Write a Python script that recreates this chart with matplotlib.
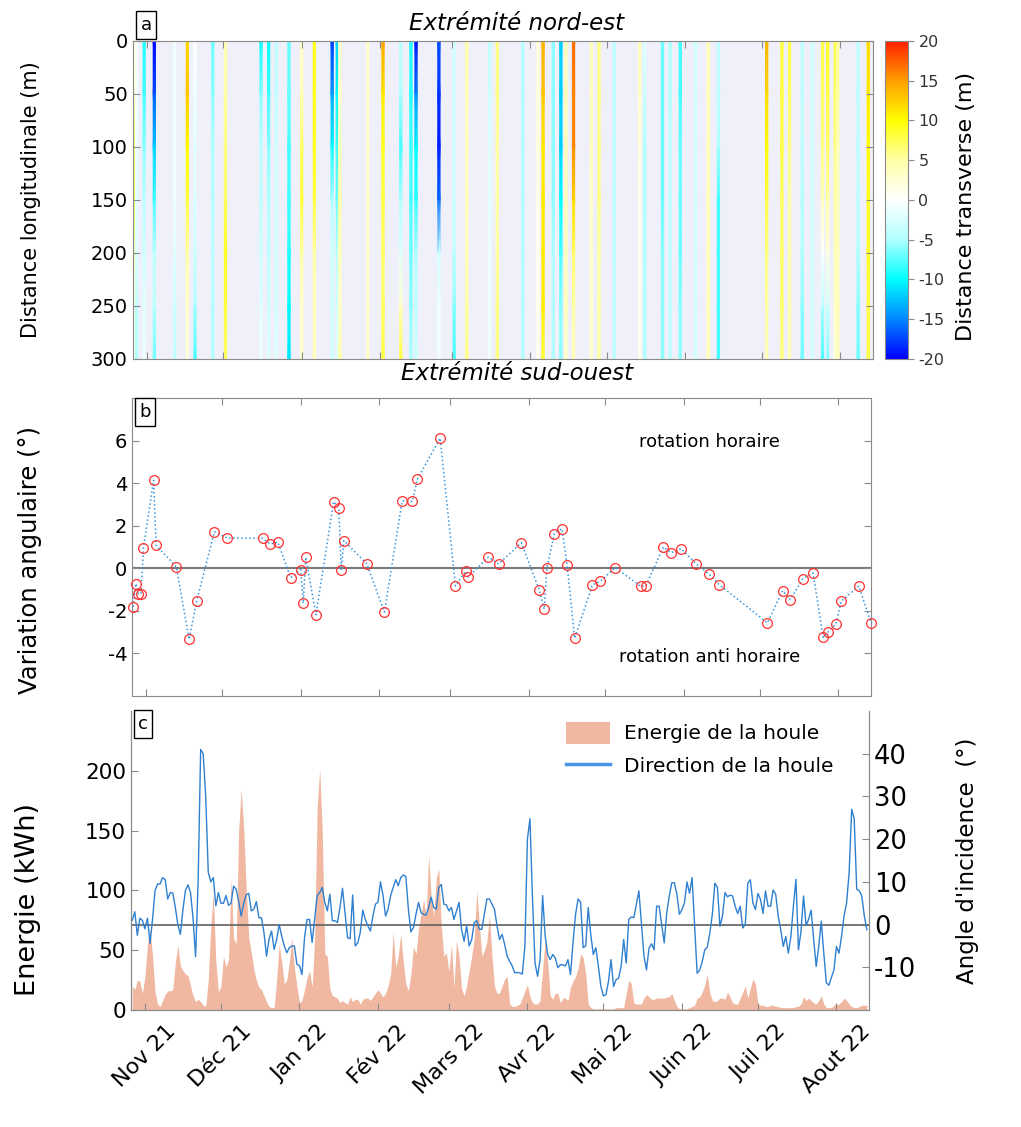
import numpy as np
import pandas as pd
import matplotlib
matplotlib.use("Agg")
import matplotlib.pyplot as plt
import matplotlib.dates as mdates
from matplotlib.colors import LinearSegmentedColormap, Normalize
from matplotlib.cm import ScalarMappable
from matplotlib.patches import Patch
from matplotlib.lines import Line2D

# ---- panel a : transverse shift of the shoreline, one stripe per survey
distance_nodes = [0, 50, 100, 150, 200, 250, 300]
stripe_dates = ["2021-10-27", "2021-10-28", "2021-10-31", "2021-11-04", "2021-11-12",
                "2021-11-17", "2021-11-20", "2021-11-27", "2021-12-02", "2021-12-16",
                "2021-12-19", "2021-12-22", "2021-12-27", "2022-01-01", "2022-01-06",
                "2022-01-13", "2022-01-15", "2022-01-16", "2022-01-27", "2022-02-02",
                "2022-02-09", "2022-02-13", "2022-02-15", "2022-02-24", "2022-03-02",
                "2022-03-07", "2022-03-16", "2022-03-19", "2022-03-29", "2022-04-04",
                "2022-04-06", "2022-04-10", "2022-04-13", "2022-04-15", "2022-04-18",
                "2022-04-25", "2022-04-28", "2022-05-04", "2022-05-14", "2022-05-16",
                "2022-05-23", "2022-05-26", "2022-05-30", "2022-06-05", "2022-06-10",
                "2022-06-14", "2022-07-03", "2022-07-09", "2022-07-12", "2022-07-17",
                "2022-07-21", "2022-07-25", "2022-07-27", "2022-07-30", "2022-07-31",
                "2022-08-08", "2022-08-12"]
stripe_values = [
    [3, 4, 7, 8, 5, 3, 2], [0, -1, -1, -2, -2, -4, -5], [-9, -8, -6, -4, -3, -2, -1],
    [-20, -17, -12, -8, -4, -4, -7], [-1, -1, -1, -1, -2, -3, -4], [12, 13, 10, 8, 5, 3, 2],
    [0, -1, -2, -2, -3, -5, -8], [-7, -6, -5, -5, -4, -5, -5], [4, 5, 6, 7, 9, 8, 7],
    [-10, -6, -4, -4, -3, -2, -1], [-10, -8, -6, -5, -4, -3, -2], [-4, -4, -3, -3, -3, -3, -2],
    [-7, -7, -8, -8, -9, -10, -11], [3, 4, 7, 8, 5, 3, 3], [9, 9, 9, 8, 5, 4, 4],
    [-18, -14, -10, -5, -3, -3, -3], [-12, -10, -8, -7, -4, -3, -2], [3, 3, 4, 5, 4, 3, 5],
    [3, 3, 3, 3, 3, 3, 3], [15, 11, 9, 8, 7, 7, 8], [-4, -5, -8, -5, -2, 3, 8],
    [-9, -9, -8, -8, -7, -6, -5], [-20, -15, -10, -9, -5, -4, -3], [-17, -18, -19, -16, -3, -1, -1],
    [-3, -3, -3, -3, -4, -6, -8], [5, 4, 4, 4, 4, 5, 6], [-4, -3, -2, -2, -1, -1, -1],
    [6, 6, 5, 5, 5, 6, 6], [-5, -5, -5, -5, -5, -5, -5], [2, 2, 2, 1, 1, 1, 1],
    [14, 13, 11, 11, 11, 11, 8], [-6, -6, -6, -6, -5, -5, -5], [-12, -12, -12, -10, -8, -6, -6],
    [4, 4, 4, 4, 4, 4, 3], [17, 16, 16, 12, 7, 5, 4], [4, 4, 4, 3, 3, 3, 3],
    [6, 6, 6, 6, 5, 5, 5], [-4, -4, -4, -4, -4, -4, -4], [4, 3, 2, 1, 1, 1, 1],
    [-2, -3, -5, -5, -5, -5, -5], [-7, -7, -7, -7, -6, -6, -6], [-5, -5, -4, -4, -4, -4, -4],
    [-8, -8, -7, -7, -7, -6, -6], [-3, -3, -3, -3, -3, -3, -3], [4, 4, 4, 4, 4, 4, 4],
    [-4, -4, -5, -8, -8, -8, -8], [14, 12, 10, 8, 6, 5, 4], [8, 8, 8, 7, 7, 7, 6],
    [8, 7, 6, 5, 5, 5, 4], [-4, -4, -4, -5, -5, -6, -7], [-3, -3, -3, -3, -3, -3, -3],
    [8, 7, 6, 4, 0, -4, -8], [9, 8, 7, 5, 2, -3, -6], [8, 7, 6, 5, 4, 3, 2],
    [5, 5, 4, 4, 4, 4, 4], [-4, -4, -4, -4, -5, -6, -7], [12, 11, 10, 9, 9, 8, 8],
]

# ---- panel b : angular variation
rotation_dates = ["2021-10-27", "2021-10-28", "2021-10-29", "2021-10-30", "2021-10-31",
                  "2021-11-04", "2021-11-05", "2021-11-13", "2021-11-18", "2021-11-21",
                  "2021-11-28", "2021-12-03", "2021-12-17", "2021-12-20", "2021-12-23",
                  "2021-12-28", "2022-01-01", "2022-01-02", "2022-01-03", "2022-01-07",
                  "2022-01-14", "2022-01-16", "2022-01-17", "2022-01-18", "2022-01-27",
                  "2022-02-03", "2022-02-10", "2022-02-14", "2022-02-16", "2022-02-25",
                  "2022-03-03", "2022-03-07", "2022-03-08", "2022-03-16", "2022-03-20",
                  "2022-03-29", "2022-04-05", "2022-04-07", "2022-04-08", "2022-04-11",
                  "2022-04-14", "2022-04-16", "2022-04-19", "2022-04-26", "2022-04-29",
                  "2022-05-05", "2022-05-15", "2022-05-17", "2022-05-24", "2022-05-27",
                  "2022-05-31", "2022-06-06", "2022-06-11", "2022-06-15", "2022-07-04",
                  "2022-07-10", "2022-07-13", "2022-07-18", "2022-07-22", "2022-07-26",
                  "2022-07-28", "2022-07-31", "2022-08-02", "2022-08-09", "2022-08-14"]
rotation_values = [-1.81, -0.72, -1.19, -1.19, 0.95, 4.13, 1.08, 0.06, -3.34, -1.53,
                   1.72, 1.42, 1.41, 1.14, 1.23, -0.44, -0.06, -1.64, 0.52, -2.19,
                   3.13, 2.81, -0.09, 1.30, 0.22, -2.06, 3.16, 3.14, 4.20, 6.11,
                   -0.83, -0.14, -0.41, 0.53, 0.20, 1.20, -1.0, -1.92, 0.0, 1.63,
                   1.86, 0.17, -3.28, -0.78, -0.62, 0.03, -0.84, -0.84, 1.0, 0.73,
                   0.92, 0.19, -0.27, -0.77, -2.56, -1.05, -1.47, -0.48, -0.23, -3.25,
                   -2.98, -2.61, -1.56, -0.84, -2.59]

# ---- panel c : daily wave energy and direction, from 27 Oct 2021
series_start = "2021-10-27"
wave_energy = [20, 17, 25, 24, 14, 28, 55, 68, 45, 15,
               5, 3, 8, 13, 16, 16, 17, 40, 54, 37,
               33, 30, 29, 20, 12, 7, 9, 7, 4, 3,
               25, 70, 98, 40, 15, 20, 45, 36, 42, 110,
               60, 55, 150, 185, 152, 100, 60, 48, 34, 25,
               19, 17, 12, 7, 3, 2, 2, 25, 55, 40,
               22, 25, 40, 60, 35, 20, 6, 8, 17, 27,
               33, 19, 60, 170, 202, 150, 47, 45, 18, 12,
               11, 10, 6, 8, 6, 5, 11, 7, 9, 9,
               5, 9, 10, 10, 8, 11, 14, 17,
               14, 11, 14, 20, 30, 65, 36, 45, 64, 40,
               22, 16, 30, 53, 47, 68, 80, 92, 78, 130,
               95, 78, 110, 118, 70, 45, 48, 32, 55, 19,
               58, 45, 18, 12, 20, 33, 45, 60, 100, 72,
               45, 50, 57, 80, 45, 20, 14, 14, 20, 26,
               28, 5, 3, 3, 4, 5, 10, 16, 21, 11,
               6, 5, 5, 8, 34, 59, 40, 12, 9, 14,
               14, 6, 10, 10, 8, 19, 24, 28, 35, 47,
               44, 30, 5, 2, 1, 1, 1, 1, 1, 1,
               1, 1, 1, 2, 2, 2, 2,
               14, 25, 22, 6, 5, 5, 5, 10, 13, 11,
               9, 9, 10, 10, 10, 10, 11, 11, 14, 8,
               3, 1, 1, 1, 1, 2, 3, 4, 10, 11,
               15, 21, 30, 14, 8, 7, 8, 10, 10, 9,
               15, 11, 6, 5, 5, 10, 15, 20, 10, 18,
               26, 22, 5, 4, 4, 3, 3, 4, 4, 3,
               3, 2, 2, 2, 2, 2, 2, 3, 3, 5,
               11, 8, 10, 8, 6, 5, 8, 12, 5, 2,
               2, 2, 4, 5, 5, 7, 10, 8, 5, 3,
               2, 2, 3, 4, 4, 4]
wave_direction = [1, 3, -2.5, 1.5, 1, -1, 1.5, -4.4, 1.2, 8,
                  9.5, 9.5, 11, 10.5, 6, 7.5, 7.4, 4, 0, -2.3,
                  3.5, 8, 9.3, 7.5, 1.5, -7.5, 10, 41, 40, 30,
                  12.3, 10, 11, 4.4, 7.5, 5, 5, 6.8, 4.5, 5,
                  9, 8.3, 5.5, 2, 5, 7, 7.3, 3.2, 3.6, 5.4,
                  1.6, 1.6, -1.9, -7.4, -3.4, -1.5, -5.8, -3.5, 0, -2.7,
                  -5, -6.6, -5.4, -5, -5, -9.3, -9.6, -11.7, -3.1, 1.2,
                  1.2, -4.2, 1.2, 6.8, 7.5, 8.7, 5.2, 3.2, 7.1, 0.9,
                  0.9, 0.5, 4, 8.5, 2.8, -3.1, -3.3, 6.9, -5, -4.3,
                  -1.9, 3.4, 1.2, -0.3, -1.5, 2, 4.8, 5.2,
                  10, 6.8, 2, 3.6, 6.8, 8.7, 10.5, 9.1, 11, 11.6,
                  11.3, 3.6, -1.7, -0.7, 2.4, 5.2, 2.8, 2.4, 2.2, 4,
                  6.4, 4, 3.6, 8.7, 9.4, 4.8, 4.6, 3.2, 4, 1.2,
                  3.2, 5.2, -1.1, -3.9, -0.3, -5, -3.5, 0.5, 0.9, -1.1,
                  -1.1, 2.4, 6, 6, 4.8, 3.6, -0.3, -3.5, -2.3, -4.6,
                  -7.4, -8.6, -9.7, -11.3, -11.2, -11.3, -11.6, -5, 20, 24.8,
                  6, -9, -12.1, -8.2, 6.8, -2.7, -7, -8.2, -7, -7.8,
                  -10.1, -9.4, -9.4, -9.7, -8.2, -11.7, -4.2, 2.4, 6, 5.2,
                  -5.4, -5, 4, -2.3, -7, -5.4, -9.7, -14.5, -16.7, -16.4,
                  -13.3, -8.2, -14.5, -12.9, -12.5, -9.7, -3.5,
                  -9, 1.2, 1.8, 1.6, 4.7, 7.9, 0.4, -7.3, -10.6, -5.5,
                  -4.5, -5.9, 4.3, 4.3, 0, -4.3, 2.8, 6.7, 9.8, 9.8,
                  7.1, 2.4, 3.5, 5.1, 10, 7.3, 11, -0.4, -11.4, -10.6,
                  -8.7, -5.9, -5.3, -2, 2.4, 9.7, 8.7, -0.4, 2, 7.5,
                  6.5, 6.9, 6.7, 4.3, 2.6, 4.3, -0.8, 0, 9.7, 10.5,
                  5.1, 3.5, 7.3, 5.9, 2.6, 7.9, 4.3, 4.3, 8.1, 7.1,
                  2, -1.2, -5.1, -2.8, -6.7, -2.8, 4.3, 10.6, -5.9, -1.6,
                  6.7, -0.2, 1.2, 3.4, -3.5, -9.8, -5.1, 0.8, -6.7, -13.6,
                  -14.2, -12.4, -10.6, -5.1, -6.7, -2.8, 2, 5.1, 12.2, 27,
                  24.8, 8.3, 7.9, 6.7, 2, -1.2]

month_labels = ["Nov 21", "Déc 21", "Jan 22", "Fév 22", "Mars 22",
                "Avr 22", "Mai 22", "Juin 22", "Juil 22", "Aout 22"]

# colours
salmon = "#f0b8a0"
line_blue = "#2f80d0"
axis_gray = "#8a8a8a"

plt.rcParams["axes.unicode_minus"] = False

month_ticks = mdates.date2num(pd.date_range("2021-11-01", "2022-08-01", freq="MS"))
x_lim = mdates.date2num([pd.Timestamp("2021-10-26 12:00"), pd.Timestamp("2022-08-13 20:00")])

fig = plt.figure(figsize=(10.21, 11.27), dpi=100)


def style_axes(ax, size=14):
    for s in ax.spines.values():
        s.set_color(axis_gray)
    ax.tick_params(direction="in", colors=axis_gray, labelcolor="black",
                   labelsize=size, length=5)


# ================= a
ax_a = fig.add_axes([0.130, 0.6815, 0.725, 0.2822])
ax_a.set_facecolor("#f0f0fa")
cmap = LinearSegmentedColormap.from_list("bcwyr", [
    (0.0, "#0000ff"), (0.125, "#0088ff"), (0.25, "#00ffff"), (0.375, "#b0ffff"),
    (0.5, "#ffffff"), (0.625, "#ffffa8"), (0.75, "#ffff00"), (0.875, "#ffa000"),
    (1.0, "#ff2000")])
norm = Normalize(-20, 20)
for d, vals in zip(stripe_dates, stripe_values):
    xc = mdates.date2num(pd.Timestamp(d))
    X, Y = np.meshgrid([xc - 0.45, xc + 0.45], distance_nodes)
    C = np.column_stack([vals, vals])
    ax_a.pcolormesh(X, Y, C, cmap=cmap, norm=norm, shading="gouraud")
ax_a.set_xlim(x_lim)
ax_a.set_ylim(300, 0)
ax_a.set_yticks([0, 50, 100, 150, 200, 250, 300])
ax_a.set_xticks(month_ticks)
ax_a.set_xticklabels([])
style_axes(ax_a)
ax_a.tick_params(top=True, right=True)
ax_a.set_ylabel("Distance longitudinale (m)", fontsize=15)
ax_a.yaxis.set_label_coords(-0.124, 0.5)

cax = fig.add_axes([0.8668, 0.6815, 0.0225, 0.2822])
cb = fig.colorbar(ScalarMappable(norm=norm, cmap=cmap), cax=cax)
cb.set_ticks([-20, -15, -10, -5, 0, 5, 10, 15, 20])
cb.outline.set_edgecolor(axis_gray)
cax.tick_params(labelsize=11.5, colors=axis_gray, labelcolor="#333333", length=4)
cb.set_label("Distance transverse (m)", fontsize=16)
cax.yaxis.set_label_coords(3.1, 0.48)

fig.text(517 / 1021, 1 - 24 / 1127, "Extrémité nord-est", ha="center", va="center",
         fontsize=16.5, style="italic")
fig.text(517 / 1021, 1 - 374 / 1127, "Extrémité sud-ouest", ha="center", va="center",
         fontsize=16.5, style="italic")

# ================= b
ax_b = fig.add_axes([0.1293, 0.3824, 0.7238, 0.2645])
ax_b.axhline(0, color="#7a7a7a", lw=1.5, zorder=1)
ax_b.plot(mdates.date2num(pd.to_datetime(rotation_dates)), rotation_values,
          linestyle=":", color="#3a94dc", lw=1.1, marker="o", markersize=7,
          markerfacecolor="none", markeredgecolor="#ff3030", markeredgewidth=0.9,
          clip_on=False, zorder=3)
ax_b.set_xlim(x_lim)
ax_b.set_ylim(-6, 8)
ax_b.set_yticks([-4, -2, 0, 2, 4, 6])
ax_b.set_xticks(month_ticks)
ax_b.set_xticklabels([])
style_axes(ax_b)
ax_b.tick_params(top=True, right=True)
ax_b.set_ylabel("Variation angulaire (°)", fontsize=17.5)
ax_b.yaxis.set_label_coords(-0.122, 0.455)
ax_b.text(0.782, 0.852, "rotation horaire", transform=ax_b.transAxes,
          ha="center", va="center", fontsize=13)
ax_b.text(0.781, 0.131, "rotation anti horaire", transform=ax_b.transAxes,
          ha="center", va="center", fontsize=13)

# ================= c
ax_c = fig.add_axes([0.1283, 0.1038, 0.7228, 0.2653])
days = mdates.date2num(pd.date_range(series_start, periods=len(wave_energy), freq="D"))
ax_c.fill_between(days, 0, wave_energy, color=salmon, lw=0)
ax_c.set_xlim(x_lim)
ax_c.set_ylim(0, 250)
ax_c.set_yticks([0, 50, 100, 150, 200])
ax_c.set_xticks(month_ticks)
ax_c.set_xticklabels(month_labels, rotation=45, ha="center")
style_axes(ax_c, 15.5)
ax_c.tick_params(axis="x", labelsize=16, pad=8)
ax_c.spines["top"].set_visible(False)
ax_c.set_ylabel("Energie (kWh)", fontsize=19.5)
ax_c.yaxis.set_label_coords(-0.122, 0.37)

ax_d = ax_c.twinx()
ax_d.axhline(0, color="#606060", lw=1.2)
ax_d.plot(days, wave_direction, color=line_blue, lw=1.0)
ax_d.set_ylim(-20, 50)
ax_d.set_yticks([-10, 0, 10, 20, 30, 40])
ax_d.set_xlim(x_lim)
style_axes(ax_d, 18.5)
ax_d.spines["top"].set_visible(False)
ax_d.set_ylabel("Angle d'incidence  (°)", fontsize=16.5)
ax_d.yaxis.set_label_coords(1.118, 0.5)

handles = [Patch(facecolor=salmon, edgecolor="none"),
           Line2D([], [], color="#4a95e6", lw=2.5)]
ax_d.legend(handles, ["Energie de la houle", "Direction de la houle"],
            loc="upper left", bbox_to_anchor=(0.565, 1.025), frameon=False,
            fontsize=14.5, handlelength=2.2, handleheight=1.3, labelspacing=0.55,
            handletextpad=0.7)

# panel letters
for lbl, (px, py) in zip(["a", "b", "c"], [(146, 25), (145, 412), (143, 724)]):
    fig.text(px / 1021, 1 - py / 1127, lbl, ha="center", va="center", fontsize=13,
             bbox=dict(boxstyle="square,pad=0.25", facecolor="white",
                       edgecolor="black", lw=1))

fig.savefig("out.png", dpi=100)
